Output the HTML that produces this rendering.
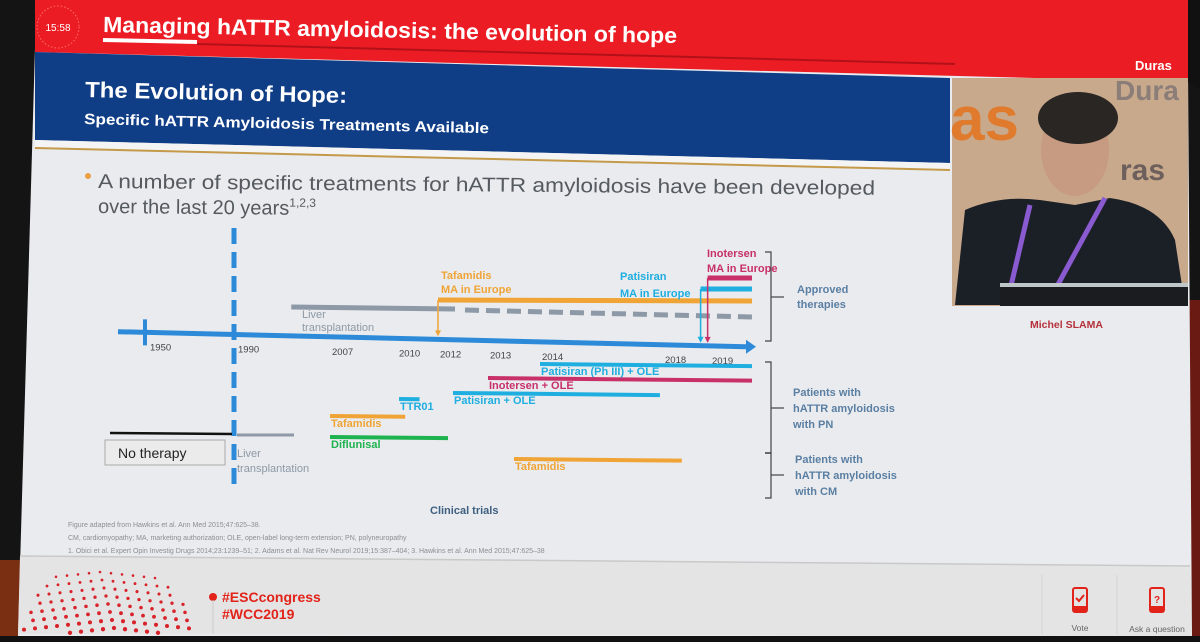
<!DOCTYPE html>
<html><head><meta charset="utf-8">
<style>
html,body{margin:0;padding:0;background:#111;}
svg{display:block;}
text{font-family:"Liberation Sans",sans-serif;}
</style></head>
<body>
<svg id="slide" width="1200" height="642" viewBox="0 0 1200 642" xmlns="http://www.w3.org/2000/svg">
  <rect x="0" y="0" width="1200" height="642" fill="#141414"/>
  <rect x="1188" y="300" width="12" height="342" fill="#6a1a12"/>
  <rect x="0" y="560" width="20" height="82" fill="#7a2e12"/>
  <polygon points="35,48 1188,72 1192,640 18,636" fill="#e9ebee"/>
  <polygon points="20,556 1190,566 1192,636 18,634" fill="#e4e4e4"/>
  <line x1="20" y1="556" x2="1190" y2="566" stroke="#c9c9c9" stroke-width="1.5"/>
  <polygon points="35,0 1188,0 1188,82 35,52" fill="#ec1c24"/>
  <polygon points="1188,0 1200,0 1200,90 1188,82" fill="#111"/>
  <circle cx="58" cy="27" r="21" fill="none" stroke="#ff6f6f" stroke-width="1" stroke-dasharray="1.5 2"/>
  <text x="58" y="31" font-size="10" fill="#fff" text-anchor="middle">15:58</text>
  <text x="103" y="32" font-size="22" font-weight="bold" fill="#fff" textLength="574" lengthAdjust="spacingAndGlyphs" transform="rotate(1.1 103 32)">Managing hATTR amyloidosis: the evolution of hope</text>
  <line x1="103" y1="40" x2="197" y2="42" stroke="#fff" stroke-width="4"/>
  <line x1="197" y1="44" x2="955" y2="64" stroke="#b3111a" stroke-width="2"/>
  <text x="1135" y="70" font-size="13" font-weight="bold" fill="#fff">Duras</text>
  <polygon points="35,52 950,78 950,163 35,140" fill="#0f3d86"/>
  <polygon points="35,140 950,163 950,170 35,147" fill="#f4f4f4"/>
  <line x1="35" y1="148" x2="950" y2="170" stroke="#c49a4a" stroke-width="2"/>
  <text x="85" y="97" font-size="22" font-weight="bold" fill="#fff" textLength="262" lengthAdjust="spacingAndGlyphs" transform="rotate(1.3 85 97)">The Evolution of Hope:</text>
  <text x="84" y="124" font-size="15" font-weight="bold" fill="#fff" textLength="405" lengthAdjust="spacingAndGlyphs" transform="rotate(1.3 84 124)">Specific hATTR Amyloidosis Treatments Available</text>
  <g>
    <rect x="952" y="78" width="236" height="228" fill="#c9a98c"/>
    <text x="950" y="140" font-size="62" font-weight="bold" fill="#e07a2c">as</text>
    <text x="1115" y="100" font-size="28" font-weight="bold" fill="#8b7d78">Dura</text>
    <text x="1120" y="180" font-size="30" font-weight="bold" fill="#6d5f5c">ras</text>
    <ellipse cx="1075" cy="150" rx="34" ry="46" fill="#c79a82"/>
    <ellipse cx="1078" cy="118" rx="40" ry="26" fill="#2a2624"/>
    <path d="M955,305 L965,210 Q1000,195 1040,200 L1075,205 L1110,198 Q1160,205 1175,240 L1185,305 Z" fill="#1b1f26"/>
    <path d="M1030,205 L1010,290 M1105,198 L1055,290" stroke="#8a5ad0" stroke-width="5"/>
    <rect x="1000" y="283" width="188" height="23" fill="#1a1c20"/>
    <rect x="1000" y="283" width="188" height="4" fill="#bfc6c8"/>
  </g>
  <text x="1030" y="328" font-size="10.5" font-weight="bold" fill="#b5303a">Michel SLAMA</text>
  <circle cx="88" cy="176" r="3" fill="#e8a040"/>
  <text x="98" y="188" font-size="20" fill="#555a60" textLength="777" lengthAdjust="spacingAndGlyphs" transform="rotate(0.5 98 188)">A number of specific treatments for hATTR amyloidosis have been developed</text>
  <text x="98" y="213" font-size="20" fill="#555a60" transform="rotate(0.5 98 213)">over the last 20 years<tspan font-size="12" dy="-8">1,2,3</tspan></text>

  <g id="chart"></g>

  <text x="68" y="527" font-size="7" fill="#8a8f95">Figure adapted from Hawkins et al. Ann Med 2015;47:625–38.</text>
  <text x="68" y="540" font-size="7" fill="#8a8f95">CM, cardiomyopathy; MA, marketing authorization; OLE, open-label long-term extension; PN, polyneuropathy</text>
  <text x="68" y="553" font-size="7" fill="#8a8f95">1. Obici et al. Expert Opin Investig Drugs 2014;23:1239–51; 2. Adams et al. Nat Rev Neurol 2019;15:387–404; 3. Hawkins et al. Ann Med 2015;47:625–38</text>

  <g id="sphere"></g>
  <circle cx="213" cy="597" r="4" fill="#e2231a"/>
  <line x1="213" y1="600" x2="213" y2="634" stroke="#ccc"/>
  <text x="222" y="602" font-size="14" font-weight="bold" fill="#e2231a">#ESCcongress</text>
  <text x="222" y="619" font-size="14" font-weight="bold" fill="#e2231a">#WCC2019</text>
  <line x1="1042" y1="575" x2="1042" y2="634" stroke="#d4d4d4"/>
  <line x1="1117" y1="575" x2="1117" y2="634" stroke="#d4d4d4"/>
  <g>
    <rect x="1073" y="588" width="14" height="24" rx="2" fill="none" stroke="#e2231a" stroke-width="2"/>
    <rect x="1073" y="606" width="14" height="6" fill="#e2231a"/>
    <path d="M1076,598 l3,3 l5,-6" stroke="#e2231a" stroke-width="2" fill="none"/>
    <text x="1080" y="631" font-size="8.5" fill="#666" text-anchor="middle">Vote</text>
  </g>
  <g>
    <rect x="1150" y="588" width="14" height="24" rx="2" fill="none" stroke="#e2231a" stroke-width="2"/>
    <rect x="1150" y="606" width="14" height="6" fill="#e2231a"/>
    <text x="1157" y="603" font-size="10" font-weight="bold" fill="#e2231a" text-anchor="middle">?</text>
    <text x="1157" y="632" font-size="8.5" fill="#666" text-anchor="middle">Ask a question</text>
  </g>
  <rect x="0" y="636" width="1200" height="6" fill="#111"/>
</svg>
<script>
// ---- data ----
const tickYears = [1950, 1990, 2007, 2010, 2012, 2013, 2014, 2018, 2019];
const tickLabels = ["1950", "1990", "2007", "2010", "2012", "2013", "2014", "2018", "2019"];
const approvedNames = ["Tafamidis", "Patisiran", "Inotersen"];
const approvedYears = [2012, 2018.8, 2018.95];
const trialNames = ["Patisiran (Ph III) + OLE", "Inotersen + OLE", "Patisiran + OLE", "TTR01", "Tafamidis", "Diflunisal", "Tafamidis"];
const trialStart = [2014, 2013, 2012.3, 2010.1, 2007, 2007, 2013.5];
const trialEnd = [2020, 2020, 2017.9, 2011.1, 2010.4, 2012.2, 2018.4];
const liverStart = 2000;
const endYear = 2020;

// ---- non-linear timeline scale (axis is not to scale on the slide) ----
const anchorYears = [1950, 1990, 2007, 2010, 2012, 2013, 2014, 2018, 2019, 2020];
const anchorPx = [148, 236, 330, 397, 438, 488, 540, 663, 710, 752];
function xScale(y) {
  if (y <= anchorYears[0]) return anchorPx[0];
  for (let i = 1; i < anchorYears.length; i++) {
    if (y <= anchorYears[i]) {
      const t = (y - anchorYears[i-1]) / (anchorYears[i] - anchorYears[i-1]);
      return anchorPx[i-1] + t * (anchorPx[i] - anchorPx[i-1]);
    }
  }
  return anchorPx[anchorPx.length-1];
}
function axisY(x) { return 332 + (x - 130) * 0.024; }

const NS = "http://www.w3.org/2000/svg";
const chart = document.getElementById("chart");
function mk(tag, attrs, parent) {
  const e = document.createElementNS(NS, tag);
  for (const k in attrs) e.setAttribute(k, attrs[k]);
  (parent || chart).appendChild(e);
  return e;
}
function txt(x, y, s, size, color, bold) {
  const t = mk("text", {x: x, y: y, "font-size": size, fill: color, "font-weight": bold ? "bold" : "normal"});
  t.textContent = s;
  return t;
}
const colors = {Tafamidis: "#f0a436", Patisiran: "#1eaee0", Inotersen: "#c8306a"};
const trialColors = ["#1eaee0", "#c8306a", "#1eaee0", "#1eaee0", "#f0a436", "#1db34e", "#f0a436"];
const trialY = [364, 378, 393, 399, 416, 437, 459];

let el = mk("line", {x1: 234, y1: 228, x2: 234, y2: 492, stroke: "#2d8ad8", "stroke-width": 5, "stroke-dasharray": "16 8"});



el = mk("line", {x1: xScale(liverStart), y1: 307, x2: 455, y2: 309, stroke: "#8d99a6", "stroke-width": 5});


el = mk("line", {x1: 465, y1: 310, x2: xScale(endYear), y2: 317, stroke: "#8d99a6", "stroke-width": 5, "stroke-dasharray": "14 7"});


txt(302, 318, "Liver", 11, "#8d99a6");
txt(302, 331, "transplantation", 11, "#8d99a6");

const ax0 = 118, ax1 = xScale(endYear) - 6;
el = mk("line", {x1: ax0, y1: axisY(ax0), x2: ax1, y2: axisY(ax1), stroke: "#2d8ad8", "stroke-width": 5});


el = mk("polygon", {points: `${ax1},${axisY(ax1)-7} ${ax1+10},${axisY(ax1)} ${ax1},${axisY(ax1)+7}`, fill: "#2d8ad8"});


el = mk("line", {x1: xScale(1950) - 3, y1: axisY(145) - 13, x2: xScale(1950) - 3, y2: axisY(145) + 13, stroke: "#2d8ad8", "stroke-width": 4});



tickYears.forEach((yr, i) => {
  const x = xScale(yr);
  const t = txt(x + 2, axisY(x) + 18, tickLabels[i], 9.5, "#444");
  
  
});

const approvedBarY = [300, 289, 278];
approvedNames.forEach((n, i) => {
  const x = xScale(approvedYears[i]);
  const c = colors[n];
  const by = approvedBarY[i];
  const g = mk("g", {});
  
  
  mk("line", {x1: x, y1: by, x2: xScale(endYear), y2: by + (i === 0 ? 1 : 0), stroke: c, "stroke-width": 5}, g);
  const ay = axisY(x) - 3;
  mk("line", {x1: x, y1: by, x2: x, y2: ay - 5, stroke: c, "stroke-width": 1.5}, g);
  mk("polygon", {points: `${x-3},${ay-6} ${x+3},${ay-6} ${x},${ay}`, fill: c}, g);
});
txt(441, 279, "Tafamidis", 11, "#f0a436", true);
txt(441, 293, "MA in Europe", 11, "#f0a436", true);
txt(620, 280, "Patisiran", 11, "#1eaee0", true);
txt(620, 297, "MA in Europe", 11, "#1eaee0", true);
txt(707, 257, "Inotersen", 11, "#c8306a", true);
txt(707, 272, "MA in Europe", 11, "#c8306a", true);

trialNames.forEach((n, i) => {
  const x0 = xScale(trialStart[i]), x1 = xScale(trialEnd[i]);
  const b = mk("line", {x1: x0, y1: trialY[i], x2: x1, y2: trialY[i] + (x1 - x0) * 0.01, stroke: trialColors[i], "stroke-width": 4});
  
  
  const t = txt(x0 + 1, trialY[i] + 11, n, 11, trialColors[i], true);
  
  
});

mk("line", {x1: 110, y1: 433, x2: 232, y2: 434, stroke: "#111", "stroke-width": 2.5});
mk("line", {x1: 237, y1: 435, x2: 294, y2: 435, stroke: "#8d99a6", "stroke-width": 3});
el = mk("rect", {x: 105, y: 440, width: 120, height: 25, fill: "#ebebeb", stroke: "#aaa", "stroke-width": 1});


txt(118, 458, "No therapy", 14, "#222");
txt(237, 457, "Liver", 11, "#8d99a6");
txt(237, 472, "transplantation", 11, "#8d99a6");

function bracket(y0, y1, ticks) {
  const g = mk("g", {fill: "none", stroke: "#444", "stroke-width": 1.2});
  
  
  mk("polyline", {points: `${765},${y0} ${771},${y0} ${771},${y1} ${765},${y1}`}, g);
  ticks.forEach(t => mk("line", {x1: t[0], y1: t[1], x2: t[2], y2: t[1]}, g));
}
bracket(252, 341, [[771, 297, 784]]);
bracket(362, 453, [[771, 408, 784]]);
bracket(453, 498, [[765, 453, 771], [771, 475, 784]]);
txt(797, 293, "Approved", 11, "#5a7fa3", true);
txt(797, 308, "therapies", 11, "#5a7fa3", true);
txt(793, 396, "Patients with", 11, "#5a7fa3", true);
txt(793, 412, "hATTR amyloidosis", 11, "#5a7fa3", true);
txt(793, 428, "with PN", 11, "#5a7fa3", true);
txt(795, 463, "Patients with", 11, "#5a7fa3", true);
txt(795, 479, "hATTR amyloidosis", 11, "#5a7fa3", true);
txt(795, 495, "with CM", 11, "#5a7fa3", true);
const ct = txt(430, 514, "Clinical trials", 11, "#3f5f80", true);



const sp = document.getElementById("sphere");
for (let r = 0; r < 9; r++) {
  for (let c = 0; c < 16; c++) {
    const cx = 100 + (c - 8) * 11 + r * 2;
    const cy = 572 + r * 8 + Math.abs(c - 8) * 1.2;
    const dx = cx - 108, dy = cy - 650;
    if (dx * dx + dy * dy < 90 * 90 && cy < 634) {
      const d = document.createElementNS(NS, "circle");
      d.setAttribute("cx", cx); d.setAttribute("cy", cy); d.setAttribute("r", 1.3 + r * 0.12);
      d.setAttribute("fill", "#d9232b");
      sp.appendChild(d);
    }
  }
}
</script>
</body></html>
